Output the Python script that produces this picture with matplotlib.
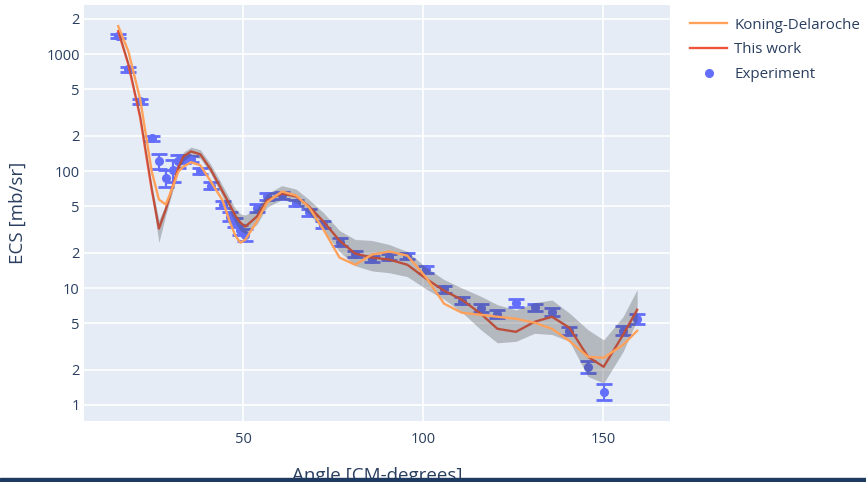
import matplotlib
matplotlib.use("Agg")
import matplotlib.pyplot as plt
from matplotlib.lines import Line2D
from matplotlib.patches import Rectangle

plt.rcParams['font.family'] = ['Open Sans', 'DejaVu Sans']

# angles [CM-degrees]
angle = [15.3, 18.1, 21.4, 24.6, 26.6, 28.5, 30.4, 32.0, 33.4, 35.5, 38.1, 41.0,
         44.3, 46.25, 47.8, 49.2, 50.6, 53.8, 56.6, 60.75, 64.7, 68.3, 72.3,
         76.75, 81.1, 85.75, 90.6, 95.6, 100.8, 105.8, 110.75, 116.0, 120.6,
         125.75, 130.9, 135.75, 140.6, 145.75, 150.1, 155.5, 159.4]

exp_val = [1432, 743, 393, 190, 122, 87.6, 103, 122, 126, 127, 100, 75,
           51.7, 40.8, 36.3, 31.6, 28.6, 48.5, 60.6, 61.8, 53.5, 44.6, 34.9,
           24.8, 19.7, 17.7, 18.3, 18.9, 14.5, 9.8, 7.78, 6.74, 6.02,
           7.44, 6.87, 6.23, 4.31, 2.13, 1.30, 4.33, 5.43]
exp_err = [60, 35, 18, 9, 17, 15, 22, 15, 10, 8, 6, 5,
           3.5, 3.5, 3.0, 3.0, 3.5, 4, 4, 4, 3.5, 3, 2.5,
           1.8, 1.2, 1.1, 1.1, 1.2, 1.0, 0.7, 0.55, 0.5, 0.45,
           0.55, 0.45, 0.5, 0.35, 0.25, 0.2, 0.4, 0.55]

kd_val = [1734, 1059, 411, 99.3, 57.1, 51.7, 72.3, 99, 109, 119, 112, 81.5,
          56, 37, 28.1, 24.4, 25.9, 37, 53.8, 66.8, 61.8, 48.8, 31.6,
          18.2, 15.8, 19.3, 20.5, 18.9, 12.3, 7.34, 6.14, 5.9, 5.68,
          5.46, 5.05, 4.48, 3.53, 2.58, 2.53, 3.27, 4.31]

tw_val = [1571, 819, 288, 69.5, 32.2, 46.9, 73.8, 107, 133, 147, 139, 103,
          66.8, 51.7, 41.6, 36.3, 33.5, 40.8, 56, 64.3, 60.6, 49.7, 37,
          25.4, 19.7, 18.2, 17.5, 15.8, 12.0, 9.48, 7.94, 6.02, 4.48,
          4.22, 5.14, 5.68, 4.57, 2.58, 2.12, 3.98, 6.52]
tw_lo = [1500, 780, 270, 63, 24.5, 42, 67, 98, 122, 136, 128, 95,
         60, 45, 36, 31, 29, 35, 49, 57, 54, 43, 31,
         20.5, 15.5, 14, 13.5, 12.5, 9.8, 8.0, 6.2, 4.4, 3.4,
         3.5, 4.1, 4.0, 3.5, 1.75, 1.54, 2.86, 5.35]
tw_hi = [1650, 870, 310, 77, 38, 52, 80, 117, 145, 160, 152, 114,
         75, 58, 48, 43, 42, 48, 64, 75, 70, 57, 44,
         31, 26, 25.5, 23.5, 20.5, 15, 11.8, 10, 8.5, 7.2,
         6.5, 7.5, 7.9, 6.1, 4.4, 3.6, 5.7, 9.7]

yticks = [1, 2, 5, 10, 20, 50, 100, 200, 500, 1000, 2000]
ylabels = ['1', '2', '5', '10', '2', '5', '100', '2', '5', '1000', '2']
xticks = [50, 100, 150]

txt = '#2a3f5f'

fig = plt.figure(figsize=(8.66, 4.82), dpi=100)
ax = fig.add_axes([0.097, 0.1266, 0.677, 0.863])
ax.set_facecolor('#E5ECF6')

ax.errorbar(angle, exp_val, yerr=exp_err, fmt='o', color='#636EFA', ms=5.5,
            elinewidth=1.6, capsize=5.5, capthick=2, zorder=2)
ax.plot(angle, tw_val, color='#EF553B', lw=1.7, zorder=3)
ax.fill_between(angle, tw_lo, tw_hi, color='#444444', alpha=0.3, lw=0, zorder=4)
ax.plot(angle, kd_val, color='#FFA15A', lw=1.7, zorder=5)

ax.set_yscale('log')
ax.set_xlim(5.8, 168.6)
ax.set_ylim(0.73, 2625)
ax.set_yticks(yticks)
ax.set_yticklabels(ylabels)
ax.minorticks_off()
ax.set_xticks(xticks)
ax.grid(True, color='white', lw=1.2)
ax.set_axisbelow(True)
for s in ax.spines.values():
    s.set_visible(False)
ax.tick_params(length=0, labelsize=10.5, labelcolor=txt)
ax.tick_params(axis='y', pad=3)
ax.tick_params(axis='x', pad=8)

fig.text(18 / 866, 1 - 213 / 482, 'ECS [mb/sr]', rotation=90, ha='center',
         va='center', fontsize=13.5, color=txt)
fig.text(377 / 866, 1 - 476 / 482, 'Angle [CM-degrees]', ha='center',
         va='center', fontsize=13.5, color=txt)
fig.patches.append(Rectangle((0, 0), 1, 4 / 482, transform=fig.transFigure,
                             color='#1f3a60', zorder=10))

handles = [Line2D([], [], color='#FFA15A', lw=1.7),
           Line2D([], [], color='#EF553B', lw=1.7),
           Line2D([], [], color='#636EFA', marker='o', ls='none', ms=5.5)]
fig.legend(handles, ['Koning-Delaroche', 'This work', 'Experiment'],
           loc='upper left', bbox_to_anchor=(676 / 866, 1 - 4 / 482),
           frameon=False, fontsize=10.9, handlelength=2.5, handletextpad=0.45,
           labelspacing=0.65, labelcolor=txt)

fig.savefig('out.png', dpi=100)
